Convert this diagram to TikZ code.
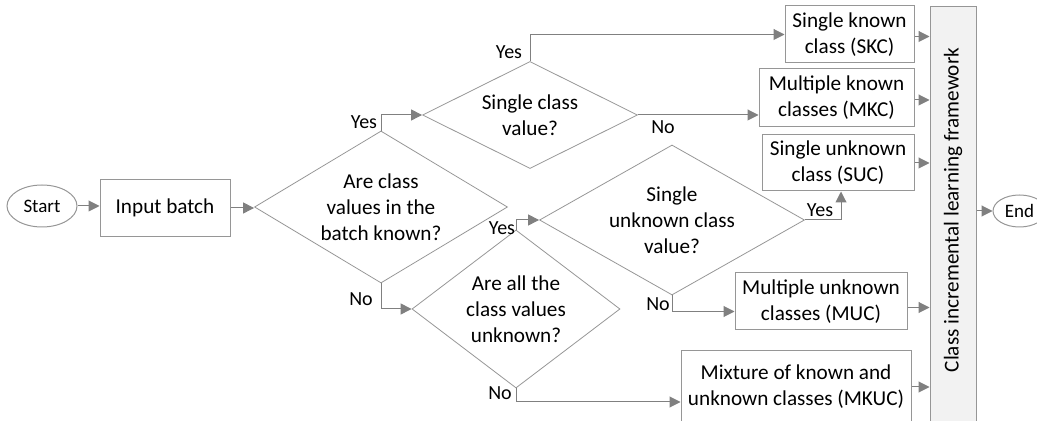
\documentclass[tikz,border=0pt]{standalone}
\usepackage{fontspec}
\setmainfont{Carlito}
\usetikzlibrary{shapes.geometric,arrows.meta}
\definecolor{linegray}{RGB}{128,128,128}
\definecolor{boxgray}{RGB}{150,150,150}
\definecolor{barfill}{RGB}{242,242,242}

\begin{document}
\begin{tikzpicture}[x=0.5pt,y=-0.5pt,>={Triangle[length=5.5pt,width=5.5pt]},
  every node/.style={font=\fontsize{10.6}{13}\selectfont},
  box/.style 2 args={draw=boxgray,line width=0.5pt,align=center,inner sep=0pt,
    minimum width=#1*0.5pt,minimum height=#2*0.5pt},
  ask/.style 2 args={diamond,draw=boxgray,line width=0.4pt,align=center,inner sep=0pt,
    minimum width=#1*0.5pt,minimum height=#2*0.5pt},
  term/.style 2 args={ellipse,draw=boxgray,line width=0.5pt,inner sep=0pt,
    minimum width=#1*0.5pt,minimum height=#2*0.5pt,font=\fontsize{9.5}{11}\selectfont},
  lbl/.style={inner sep=0pt,font=\fontsize{10}{12}\selectfont},
  flow/.style={->,draw=linegray,line width=0.5pt}]
\useasboundingbox (0,0) rectangle (1037,421);
\clip (0,0) rectangle (1037,421);

\node[term={70}{42}] (start) at (42,206) {Start};
\node[box={130}{57}] (input) at (165,208) {Input batch};
\node[ask={253}{152},aspect=1.66] (known) at (381,207) {Are class\\values in the\\batch known?};
\node[ask={215}{107},aspect=2] (single) at (530,115) {Single class\\value?};
\node[ask={208}{158},aspect=1.32] (allunk) at (516,309) {Are all the\\class values\\unknown?};
\node[ask={265}{150},aspect=1.77] (oneunk) at (672,220) {Single\\unknown class\\value?};

\node[box={129}{57}] (skc) at (849.5,34.5) {Single known\\class (SKC)};
\node[box={155}{58}] (mkc) at (836.5,98) {Multiple known\\classes (MKC)};
\node[box={152}{56}] (suc) at (838,163) {Single unknown\\class (SUC)};
\node[box={172}{57}] (muc) at (821,301.5) {Multiple unknown\\classes (MUC)};
\node[box={230}{72}] (mkuc) at (796,387) {Mixture of known and\\unknown classes (MKUC)};

\node[draw=boxgray,fill=barfill,line width=0.5pt,inner sep=0pt,
  minimum width=46*0.5pt,minimum height=440*0.5pt] (fw) at (953,227) {};
\node[rotate=90] (fwtext) at (953,210) {Class incremental learning framework};
\node[term={53}{32}] (stop) at (1019.5,211) {End};

\draw[flow] (start.east) -- (start.east -| input.west);
\draw[flow] (input.east) -- (input.east -| known.west);
\draw[flow] (known.north) |- (single.west);
\draw[flow] (known.south) |- (allunk.west);
\draw[flow] (single.north) |- (skc.west);
\draw[flow] (single.east) -- (single.east -| mkc.west);
\draw[flow] (allunk.north) |- (oneunk.west);
\draw[flow] (oneunk.east) -| ([xshift=1.5pt]suc.south);
\draw[flow] (oneunk.south) |- ([yshift=-5pt]muc.west);
\draw[flow] (allunk.south) |- ([yshift=-7.5pt]mkuc.west);
\foreach \b/\s in {skc/-1,mkc/-1,suc/0,muc/-3,mkuc/0}
  \draw[flow] ([yshift=\s pt]\b.east) -- ([yshift=\s pt]\b.east -| fw.west);
\draw[flow] (fw.east |- stop.west) -- (stop.west);

\node[lbl] (yes1) at (364,122) {Yes};
\node[lbl] (no1) at (361,299) {No};
\node[lbl] (yes2) at (509,52) {Yes};
\node[lbl] (no2) at (663,127) {No};
\node[lbl] (yes4) at (502,228) {Yes};
\node[lbl] (no3) at (658,304) {No};
\node[lbl] (no4) at (500,393) {No};
\node[lbl] (yes3) at (820,210) {Yes};
\end{tikzpicture}
\end{document}
